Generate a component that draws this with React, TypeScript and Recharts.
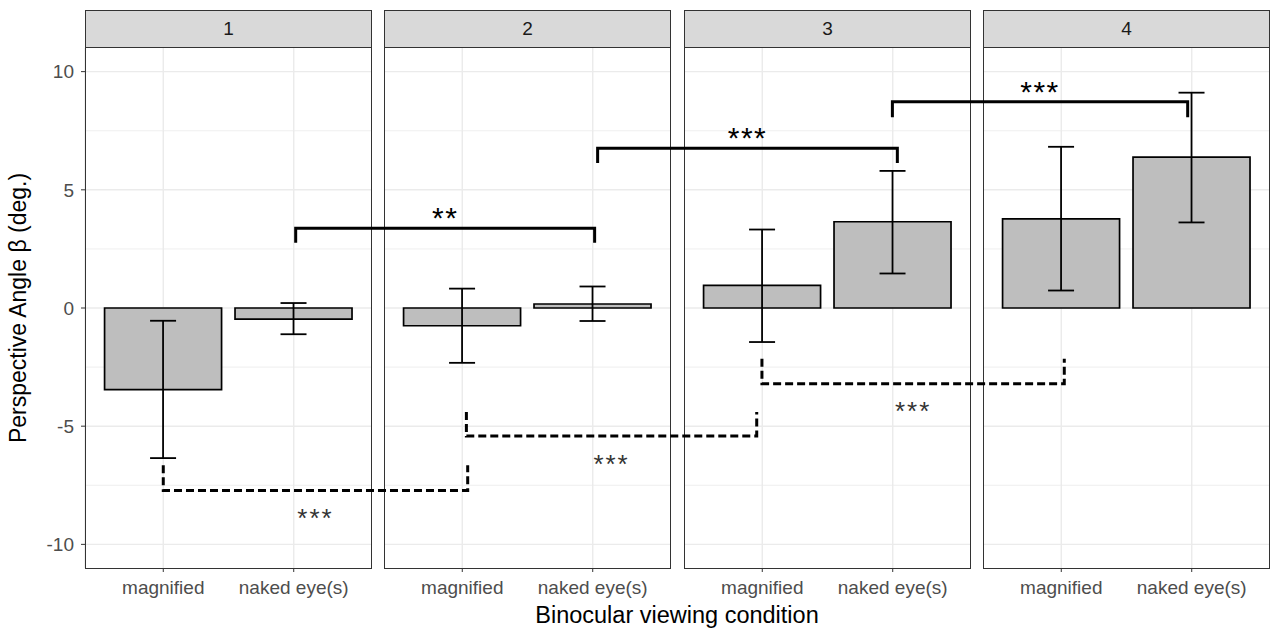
import React from "react";
import {
  Bar,
  BarChart,
  CartesianGrid,
  ComposedChart,
  ErrorBar,
  Line,
  ReferenceDot,
  XAxis,
  YAxis,
} from "recharts";

const FONT = '"Liberation Sans", Arial, Helvetica, sans-serif';

// facets and conditions
const facets = ["1", "2", "3", "4"];
const conditions = ["magnified", "naked eye(s)"];

// means per facet
const meanMagnified = [-3.45, -0.75, 0.96, 3.77];
const meanNaked = [-0.47, 0.17, 3.65, 6.38];
// error bar limits per facet
const loMagnified = [-6.35, -2.32, -1.44, 0.74];
const hiMagnified = [-0.54, 0.82, 3.32, 6.82];
const loNaked = [-1.11, -0.55, 1.46, 3.62];
const hiNaked = [0.21, 0.91, 5.8, 9.11];

const yTicks = [-10, -5, 0, 5, 10];
const yMinor = [-7.5, -2.5, 2.5, 7.5];
const yDomain: [number, number] = [-11, 11];

// significance brackets: [facet, x position (1 = magnified, 2 = naked)]
const solidBrackets = [
  { from: [0, 2.015], to: [1, 2.012], y: 3.37, tip: 2.76, label: "**" },
  { from: [1, 2.035], to: [2, 2.038], y: 6.76, tip: 6.13, label: "***" },
  { from: [2, 2.0], to: [3, 1.969], y: 8.73, tip: 8.07, label: "***" },
];
const dashedBrackets = [
  { from: [0, 1.0], to: [1, 1.039], y: -7.72, tip: -6.65, label: "***" },
  { from: [1, 1.029], to: [2, 0.96], y: -5.42, tip: -4.4, label: "***" },
  { from: [2, 1.0], to: [3, 1.023], y: -3.2, tip: -2.15, label: "***" },
];

// layout
const PLOT_LEFT = 85;
const PLOT_TOP = 48;
const PLOT_H = 520;
const PANEL_W = 287;
const GAP = 12.33;
const STRIP_TOP = 10;
const X_AXIS_H = 40;
const UNITS = 2.2; // ggplot discrete expansion: 0.4 .. 2.6
const GAP_U = GAP / (PANEL_W / UNITS);
const PAD = (PANEL_W - (PANEL_W / UNITS) * 2) / 2;

const panelLeft = (i: number) => Math.round(PLOT_LEFT + i * (PANEL_W + GAP));
const gx = (f: number, x: number) => f * (UNITS + GAP_U) + (x - 0.4);

function facetData(i: number) {
  const means = [meanMagnified[i], meanNaked[i]];
  const los = [loMagnified[i], loNaked[i]];
  const his = [hiMagnified[i], hiNaked[i]];
  return conditions.map((c, j) => ({
    cond: c,
    mean: means[j],
    err: [means[j] - los[j], his[j] - means[j]],
  }));
}

function bracketPoints(b: { from: number[]; to: number[]; y: number; tip: number }) {
  const x1 = gx(b.from[0], b.from[1]);
  const x2 = gx(b.to[0], b.to[1]);
  return [
    { x: x1, y: b.tip },
    { x: x1, y: b.y },
    { x: x2, y: b.y },
    { x: x2, y: b.tip },
  ];
}

function Panel({ index }: { index: number }) {
  const first = index === 0;
  const left = first ? 0 : panelLeft(index);
  const width = first ? PLOT_LEFT + PANEL_W : PANEL_W;
  return (
    <div style={{ position: "absolute", left, top: PLOT_TOP }}>
      <BarChart
        width={width}
        height={PLOT_H + X_AXIS_H}
        data={facetData(index)}
        margin={{ top: 0, right: 0, bottom: 0, left: 0 }}
        barCategoryGap="5%"
      >
        <CartesianGrid horizontalValues={yTicks} stroke="#EBEBEB" strokeWidth={1.4} />
        <CartesianGrid horizontalValues={yMinor} vertical={false} stroke="#EBEBEB" strokeWidth={0.8} />
        <XAxis
          dataKey="cond"
          interval={0}
          padding={{ left: PAD, right: PAD }}
          height={X_AXIS_H}
          tickSize={4}
          tickMargin={9}
          axisLine={false}
          tickLine={{ stroke: "#333333" }}
          tick={{ fill: "#4D4D4D", fontSize: 19, fontFamily: FONT }}
        />
        <YAxis
          domain={yDomain}
          ticks={yTicks}
          allowDataOverflow
          hide={!first}
          width={first ? PLOT_LEFT : 0}
          tickSize={4}
          tickMargin={7}
          axisLine={false}
          tickLine={{ stroke: "#333333" }}
          tick={{ fill: "#4D4D4D", fontSize: 19, fontFamily: FONT }}
        />
        <Bar dataKey="mean" fill="#BEBEBE" stroke="#000000" strokeWidth={1.7} isAnimationActive={false}>
          <ErrorBar dataKey="err" width={13} stroke="#000000" strokeWidth={1.8} isAnimationActive={false} />
        </Bar>
      </BarChart>
    </div>
  );
}

export default function App() {
  const totalU = facets.length * UNITS + (facets.length - 1) * GAP_U;
  return (
    <div
      style={{
        position: "absolute",
        left: 0,
        top: 0,
        width: 1270,
        height: 628,
        background: "#ffffff",
        overflow: "hidden",
        fontFamily: FONT,
      }}
    >
      {facets.map((_, i) => (
        <Panel key={i} index={i} />
      ))}
      {facets.map((f, i) => (
        <React.Fragment key={f}>
          <div
            style={{
              position: "absolute",
              left: panelLeft(i),
              top: PLOT_TOP - 1,
              width: PANEL_W,
              height: PLOT_H + 2,
              border: "1px solid #333333",
              boxSizing: "border-box",
            }}
          />
          <div
            style={{
              position: "absolute",
              left: panelLeft(i),
              top: STRIP_TOP,
              width: PANEL_W,
              height: PLOT_TOP - STRIP_TOP,
              background: "#D9D9D9",
              border: "1px solid #333333",
              boxSizing: "border-box",
              display: "flex",
              alignItems: "center",
              justifyContent: "center",
              fontSize: 19,
              color: "#1A1A1A",
            }}
          >
            {f}
          </div>
        </React.Fragment>
      ))}
      <div style={{ position: "absolute", left: 0, top: 0 }}>
        <ComposedChart
          width={1270}
          height={628}
          margin={{ top: PLOT_TOP, right: 0, bottom: 628 - PLOT_TOP - PLOT_H, left: PLOT_LEFT }}
        >
          <XAxis type="number" dataKey="x" domain={[0, totalU]} hide allowDataOverflow />
          <YAxis type="number" domain={yDomain} hide allowDataOverflow />
          {solidBrackets.map((b, i) => (
            <Line
              key={"s" + i}
              data={bracketPoints(b)}
              dataKey="y"
              type="linear"
              stroke="#000000"
              strokeWidth={3}
              strokeLinejoin="miter"
              dot={false}
              activeDot={false}
              isAnimationActive={false}
            />
          ))}
          {dashedBrackets.map((b, i) => (
            <Line
              key={"d" + i}
              data={bracketPoints(b)}
              dataKey="y"
              type="linear"
              stroke="#000000"
              strokeWidth={3}
              strokeDasharray="8 4"
              strokeLinejoin="miter"
              dot={false}
              activeDot={false}
              isAnimationActive={false}
            />
          ))}
          {solidBrackets.map((b, i) => (
            <ReferenceDot
              key={"sl" + i}
              x={(gx(b.from[0], b.from[1]) + gx(b.to[0], b.to[1])) / 2}
              y={b.y}
              r={0}
              stroke="none"
              label={{
                value: b.label,
                position: "top",
                offset: 0,
                fontSize: 30,
                fill: "#000000",
                fontFamily: FONT,
                letterSpacing: 1.5,
              }}
            />
          ))}
          {dashedBrackets.map((b, i) => (
            <ReferenceDot
              key={"dl" + i}
              x={(gx(b.from[0], b.from[1]) + gx(b.to[0], b.to[1])) / 2}
              y={b.y}
              r={0}
              stroke="none"
              label={{
                value: b.label,
                position: "bottom",
                offset: 18,
                fontSize: 26,
                fill: "#333333",
                fontFamily: FONT,
                letterSpacing: 2,
              }}
            />
          ))}
        </ComposedChart>
      </div>
      <svg width={1270} height={628} style={{ position: "absolute", left: 0, top: 0, pointerEvents: "none" }}>
        <text x={677} y={623} textAnchor="middle" fontSize={23.5} fontFamily={FONT} fill="#000000">
          Binocular viewing condition
        </text>
        <text
          transform="translate(26,308) rotate(-90)"
          textAnchor="middle"
          fontSize={23}
          fontFamily={FONT}
          fill="#000000"
        >
          Perspective Angle β (deg.)
        </text>
      </svg>
    </div>
  );
}
